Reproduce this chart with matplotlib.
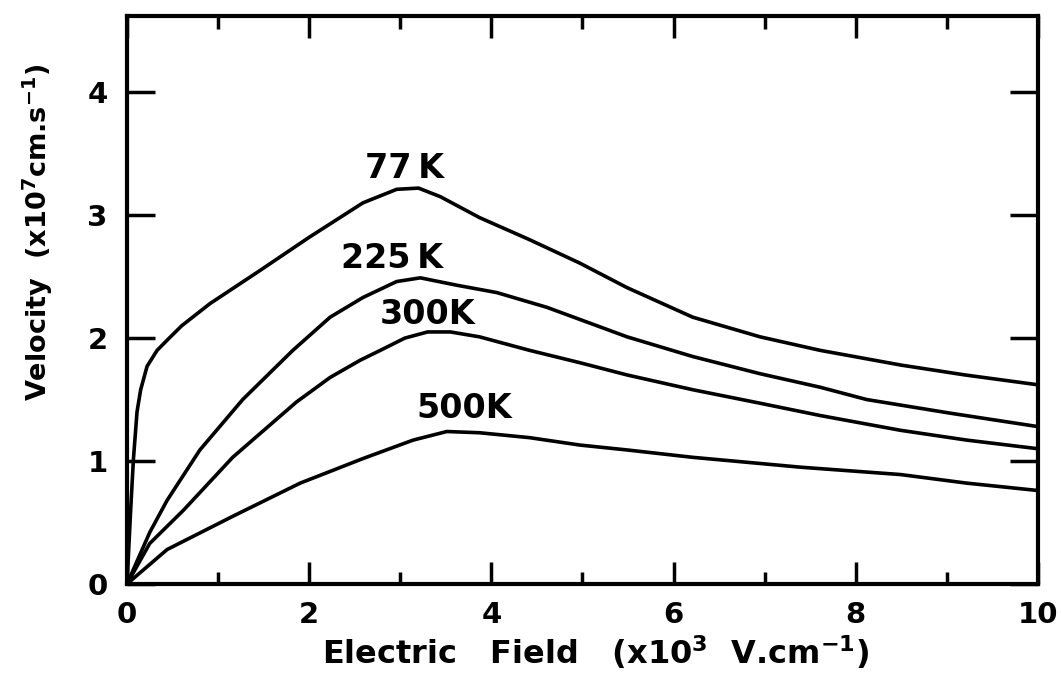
import matplotlib
matplotlib.use("Agg")
import matplotlib.pyplot as plt
from matplotlib.ticker import MultipleLocator

# Drift velocity vs. electric field at several lattice temperatures
field_77 = [0, 0.02, 0.04, 0.07, 0.11, 0.15, 0.22, 0.33, 0.45, 0.6, 0.91, 1.46,
            2.0, 2.59, 2.96, 3.2, 3.44, 3.87, 4.42, 4.97, 5.49, 6.21, 6.95,
            7.61, 8.5, 9.2, 10]
vel_77 = [0, 0.3, 0.6, 1.01, 1.4, 1.58, 1.77, 1.9, 1.99, 2.1, 2.28, 2.55,
          2.82, 3.1, 3.21, 3.22, 3.15, 2.98, 2.8, 2.61, 2.41, 2.17, 2.01,
          1.9, 1.78, 1.7, 1.62]

field_225 = [0, 0.25, 0.44, 0.8, 1.27, 1.82, 2.23, 2.59, 2.96, 3.22, 3.62,
             4.06, 4.61, 5.49, 6.21, 6.95, 7.61, 8.12, 9.03, 10]
vel_225 = [0, 0.42, 0.68, 1.09, 1.5, 1.9, 2.17, 2.33, 2.46, 2.49, 2.43,
           2.37, 2.25, 2.01, 1.85, 1.71, 1.6, 1.5, 1.39, 1.28]

field_300 = [0, 0.25, 0.62, 1.16, 1.86, 2.23, 2.56, 2.78, 3.05, 3.3, 3.55,
             3.87, 4.42, 4.97, 5.49, 6.21, 6.95, 7.61, 8.49, 9.22, 10]
vel_300 = [0, 0.33, 0.6, 1.03, 1.48, 1.68, 1.82, 1.9, 2.0, 2.05, 2.05,
           2.01, 1.9, 1.8, 1.7, 1.58, 1.47, 1.37, 1.25, 1.17, 1.1]

field_500 = [0, 0.44, 1.16, 1.9, 2.59, 3.14, 3.51, 3.87, 4.42, 4.97, 5.49,
             6.21, 6.95, 7.39, 8.49, 9.22, 10]
vel_500 = [0, 0.28, 0.55, 0.82, 1.02, 1.17, 1.24, 1.23, 1.19, 1.13, 1.09,
           1.03, 0.98, 0.95, 0.89, 0.82, 0.76]

curve_labels = ["77\u2009K", "225\u2009K", "300K", "500K"]
label_x = [3.05, 2.91, 3.30, 3.70]
label_y = [3.38, 2.65, 2.19, 1.43]

x_ticks = [0, 2, 4, 6, 8, 10]
y_ticks = [0, 1, 2, 3, 4]

plt.rcParams["font.family"] = "DejaVu Sans"
plt.rcParams["font.weight"] = "bold"

fig = plt.figure(figsize=(10.61, 6.83), dpi=100)
ax = fig.add_axes([0.1197, 0.145, 0.8586, 0.8316])

curves = [(field_77, vel_77), (field_225, vel_225),
          (field_300, vel_300), (field_500, vel_500)]
for xs, ys in curves:
    ax.plot(xs, ys, color="black", lw=2.6, solid_joinstyle="round",
            solid_capstyle="round", clip_on=False)

for text, tx, ty in zip(curve_labels, label_x, label_y):
    ax.text(tx, ty, text, fontsize=24, ha="center", va="center", fontweight="bold")

ax.set_xlim(0, 10)
ax.set_ylim(0, 4.62)
ax.set_xticks(x_ticks)
ax.set_xticklabels([str(v) for v in x_ticks])
ax.xaxis.set_minor_locator(MultipleLocator(1))
ax.set_yticks(y_ticks)
ax.set_yticklabels([str(v) for v in y_ticks])

ax.tick_params(axis="both", which="both", direction="in", top=True, right=True,
               width=2.5, labelsize=21)
ax.tick_params(axis="x", which="major", length=16, pad=12)
ax.tick_params(axis="x", which="minor", length=9)
ax.tick_params(axis="y", which="major", length=20, pad=14)

for spine in ax.spines.values():
    spine.set_linewidth(3)

# axis titles placed as figure text so their extents can be set directly
fig.text(596 / 1061, 1 - 664 / 683, "Electric   Field   (x10$^3$  V.cm$^{-1}$)",
         fontsize=23, fontweight="bold", ha="center", va="baseline")
fig.text(0.036, 1 - 232 / 683, "Velocity  (x10$^7$cm.s$^{-1}$)", fontsize=19.5,
         fontweight="bold", rotation=90, ha="center", va="center")

fig.savefig("out.png", dpi=100)
